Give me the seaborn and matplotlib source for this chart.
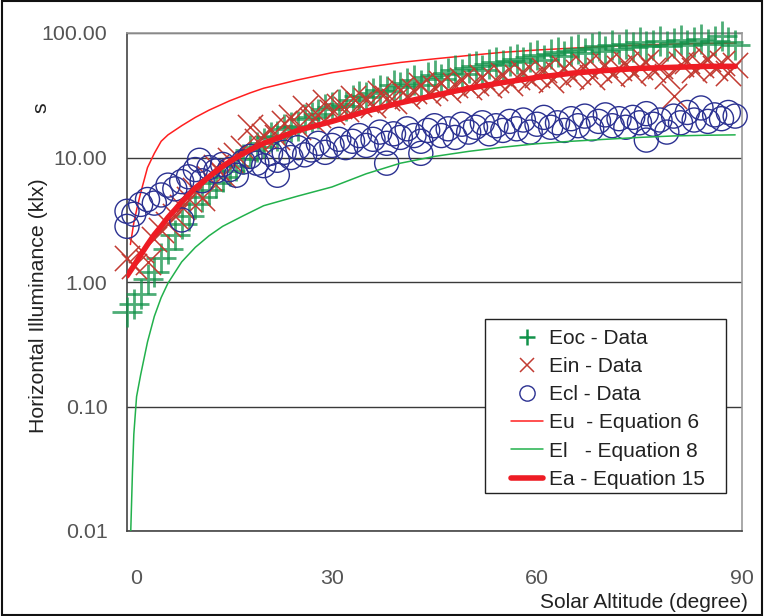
import matplotlib
matplotlib.use("Agg")
import matplotlib.pyplot as plt
import matplotlib.transforms as mtransforms
from matplotlib.patches import Rectangle
from matplotlib.lines import Line2D
import seaborn as sns
import pandas as pd

sns.set_style("white")
plt.rcParams['font.family'] = ['Liberation Sans', 'DejaVu Sans']

# ---------------- data ----------------
alt_deg = [0, 1, 2, 3, 4, 5, 6, 7, 8, 9, 10, 11, 12, 13, 14, 15, 16, 17, 18, 19,
           20, 21, 22, 23, 24, 25, 26, 27, 28, 29, 30, 31, 32, 33, 34, 35, 36, 37, 38, 39,
           40, 41, 42, 43, 44, 45, 46, 47, 48, 49, 50, 51, 52, 53, 54, 55, 56, 57, 58, 59,
           60, 61, 62, 63, 64, 65, 66, 67, 68, 69, 70, 71, 72, 73, 74, 75, 76, 77, 78, 79,
           80, 81, 82, 83, 84, 85, 86, 87, 88, 89]

eoc = [0.57, 0.66, 0.80, 1.05, 1.20, 1.55, 1.85, 2.4, 2.9, 3.4,
       4.2, 4.8, 5.5, 6.2, 7.0, 7.8, 8.6, 9.8, 11.5, 12.2,
       13.0, 14.5, 15.0, 16.8, 17.5, 18.0, 20.5, 21.0, 22.5, 24.5,
       25.5, 27.0, 26.0, 29.0, 31.0, 30.5, 33.0, 35.0, 34.0, 38.0,
       36.5, 40.0, 42.0, 38.5, 44.0, 46.0, 43.0, 48.0, 50.0, 47.0,
       52.0, 54.0, 50.0, 56.0, 58.0, 55.0, 60.0, 62.0, 58.0, 64.0,
       66.0, 61.0, 68.0, 70.0, 65.0, 72.0, 74.0, 69.0, 76.0, 78.0,
       72.0, 80.0, 75.0, 82.0, 77.0, 84.0, 79.0, 80.0, 86.0, 78.0,
       83.0, 88.0, 80.0, 85.0, 90.0, 82.0, 87.0, 94.0, 84.0, 80.0]

ein = [1.55, 1.35, 1.8, 1.45, 2.2, 2.6, 2.9, 3.4, 4.0, 4.6,
       5.5, 4.7, 6.8, 8.4, 7.2, 9.5, 10.5, 12.0, 17.5, 13.5,
       15.0, 17.0, 14.5, 19.0, 21.0, 17.5, 25.0, 20.0, 22.0, 28.0,
       23.0, 26.0, 24.5, 30.0, 27.0, 29.0, 26.5, 33.0, 30.0, 28.5,
       35.0, 31.0, 34.0, 38.0, 33.0, 36.0, 40.0, 35.0, 38.0, 42.0,
       37.0, 40.0, 44.0, 38.0, 42.0, 46.0, 40.0, 44.0, 48.0, 43.0,
       46.0, 50.0, 42.0, 47.0, 52.0, 45.0, 49.0, 54.0, 44.0, 50.0,
       55.0, 47.0, 52.0, 56.0, 48.0, 53.0, 58.0, 50.0, 54.0, 45.0,
       31.0, 56.0, 60.0, 50.0, 55.0, 62.0, 52.0, 57.0, 48.0, 55.0]

ecl = [3.7, 3.5, 4.2, 4.6, 4.3, 5.0, 6.0, 5.6, 6.4, 7.0,
       8.0, 6.5, 8.3, 7.8, 8.8, 8.0, 7.2, 9.2, 10.2, 9.0,
       8.6, 10.8, 9.5, 11.0, 10.0, 12.0, 10.5, 11.5, 13.0, 11.0,
       12.5, 14.0, 12.0, 13.5, 15.0, 12.5, 14.0, 16.0, 13.0, 15.5,
       14.5, 17.0, 15.0, 13.5, 16.5, 18.0, 15.0, 17.0, 14.5, 18.5,
       16.0, 17.5, 19.0, 15.5, 18.0, 16.5, 19.5, 17.0, 20.0, 16.0,
       18.5, 21.0, 17.5, 19.0, 16.5, 20.5, 18.0, 21.5, 17.0, 19.5,
       22.0, 18.0, 20.5, 17.5, 21.0, 19.0, 22.5, 18.5, 20.0, 16.0,
       21.5, 19.0, 23.0, 20.0, 25.0, 19.5, 22.0, 20.5, 23.0, 21.5]

ecl_extra_alt = [0, 8, 10.6, 22, 38, 43, 76]
ecl_extra = [2.8, 3.15, 9.5, 7.2, 9.0, 10.8, 13.8]

eu_alt = [0.5, 1, 1.5, 2, 3, 4, 5, 6, 8, 10, 12, 15, 18, 20, 25, 30, 35, 40,
          45, 50, 55, 60, 65, 70, 75, 80, 85, 89]
eu = [2.0, 3.0, 4.0, 5.2, 8.3, 10.8, 13.5, 15.2, 18.0, 21.0, 24.0, 28.5, 33.0, 36.0,
      42.0, 48.0, 53.0, 58.0, 62.0, 66.0, 70.0, 73.0, 75.5, 78.0, 80.0, 81.5, 82.5, 83.0]

el_alt = [0.55, 0.8, 1, 1.4, 2, 3, 4, 5, 6, 8, 10, 12, 14, 17, 20, 25, 30, 35, 40,
          45, 50, 55, 60, 65, 70, 75, 80, 85, 89]
el = [0.01, 0.03, 0.06, 0.12, 0.18, 0.33, 0.53, 0.75, 0.98, 1.45, 1.9, 2.35, 2.8, 3.4,
      4.1, 4.9, 5.8, 7.4, 9.0, 10.2, 11.2, 12.1, 12.9, 13.5, 14.0, 14.5, 14.9, 15.1, 15.2]

ea_alt = [0, 1, 2, 3, 4, 5, 6, 7, 8, 9, 10, 12, 14, 16, 18, 20, 25, 30, 35, 40,
          45, 50, 55, 60, 65, 70, 75, 80, 85, 89]
ea = [1.12, 1.35, 1.65, 2.0, 2.4, 2.8, 3.3, 3.8, 4.4, 5.0, 5.7, 7.0, 8.5, 10.0, 11.5,
      13.0, 16.5, 19.5, 23.5, 27.5, 31.5, 36.0, 40.0, 44.0, 47.5, 50.0, 52.0, 53.0, 54.0, 54.0]

y_ticks = [0.01, 0.1, 1, 10, 100]
y_ticklabels = ["0.01", "0.10", "1.00", "10.00", "100.00"]
x_ticks = [0, 10, 20, 30, 40, 50, 60, 70, 80, 90]
x_ticklabels = ["0", "", "", "30", "", "", "60", "", "", "90"]

labels = ["Eoc - Data", "Ein - Data", "Ecl - Data",
          "Eu  - Equation 6", "El   - Equation 8", "Ea - Equation 15"]

c_oc = "#12924a"
c_in = "#c23b32"
c_cl = "#2b3191"
c_eu = "#ff1f1f"
c_el = "#22b14c"
c_ea = "#ee1c24"

W, H = 764, 616

# ---------------- figure ----------------
fig = plt.figure(figsize=(W / 100, H / 100), dpi=100)
ax = fig.add_axes([127 / W, 1 - 531 / H, (742 - 127) / W, (531 - 33) / H])

df_oc = pd.DataFrame({"alt": alt_deg, "v": eoc})
df_in = pd.DataFrame({"alt": alt_deg, "v": ein})
df_cl = pd.DataFrame({"alt": alt_deg + ecl_extra_alt, "v": ecl + ecl_extra})

sns.lineplot(x=eu_alt, y=eu, ax=ax, color=c_eu, lw=1.1, estimator=None, sort=False, zorder=2)
sns.scatterplot(data=df_oc, x="alt", y="v", ax=ax, marker="+", s=480, color=c_oc,
                linewidth=2.0, alpha=0.75, zorder=3, clip_on=False)
sns.scatterplot(data=df_in, x="alt", y="v", ax=ax, marker="x", s=330, color=c_in,
                linewidth=1.1, zorder=3, clip_on=False)
sns.scatterplot(data=df_cl, x="alt", y="v", ax=ax, marker="o", s=300, facecolor="none",
                edgecolor=c_cl, linewidth=1.0, zorder=4, clip_on=False)
sns.lineplot(x=el_alt, y=el, ax=ax, color=c_el, lw=1.1, estimator=None, sort=False, zorder=5)
sns.lineplot(x=ea_alt, y=ea, ax=ax, color=c_ea, lw=4, estimator=None, sort=False, zorder=5)

ax.set_yscale("log")
ax.set_ylim(0.01, 100)
ax.set_xlim(0, 90)
ax.set_yticks(y_ticks)
ax.set_yticklabels(y_ticklabels)
ax.minorticks_off()
ax.set_xticks(x_ticks)
ax.set_xticklabels(x_ticklabels)
ax.tick_params(axis="y", direction="out", length=6, width=1, color="#444444",
               labelsize=15.4, labelcolor="#555555", pad=8)
ax.tick_params(axis="x", direction="out", length=6, width=1, color="#444444",
               labelsize=15.4, labelcolor="#555555", pad=21)
ax.yaxis.grid(True, color="#3a3a3a", lw=1)
ax.xaxis.grid(False)
for s in ["left", "bottom"]:
    ax.spines[s].set_color("#444444")
    ax.spines[s].set_linewidth(1.2)
for s in ["top", "right"]:
    ax.spines[s].set_color("#9a9a9a")
    ax.spines[s].set_linewidth(1.2)
ax.set_xlabel("")
ax.set_ylabel("")

# shift the "0" label slightly right as in the reference
lbl0 = ax.get_xticklabels()[0]
lbl0.set_transform(lbl0.get_transform() + mtransforms.ScaledTranslation(9 / 100, 0, fig.dpi_scale_trans))

fig.text(644 / W, 1 - 603 / H, "Solar Altitude (degree)", ha="center", va="center",
         fontsize=15, color="#222222")
fig.text(39 / W, 1 - 306 / H, "Horizontal Illuminance (klx)", ha="center", va="center",
         rotation=90, fontsize=15.3, color="#222222")
fig.text(41 / W, 1 - 108 / H, "s", ha="center", va="center",
         rotation=90, fontsize=15.3, color="#222222")

handles = [
    Line2D([], [], ls="none", marker="+", color=c_oc, markersize=12, markeredgewidth=1.8),
    Line2D([], [], ls="none", marker="x", color=c_in, markersize=10, markeredgewidth=1.1),
    Line2D([], [], ls="none", marker="o", markerfacecolor="none", markeredgecolor=c_cl,
           markersize=11, markeredgewidth=1.0),
    Line2D([], [], color=c_eu, lw=1.1),
    Line2D([], [], color=c_el, lw=1.1),
    Line2D([], [], color=c_ea, lw=4),
]
leg_fs = 15
fs_px = leg_fs * 100 / 72
leg = ax.legend(handles, labels, loc="upper left",
                bbox_to_anchor=(511 / W, 1 - 329 / H), bbox_transform=fig.transFigure,
                fontsize=leg_fs, frameon=False, handlelength=32 / fs_px,
                handletextpad=6 / fs_px, labelspacing=0.44, borderpad=0, borderaxespad=0)
for t in leg.get_texts():
    t.set_color("#222222")
leg.set_zorder(10)
ax.add_patch(Rectangle((485 / W, 1 - 493 / H), (726 - 485) / W, (493 - 319) / H,
                       transform=fig.transFigure, facecolor="white", edgecolor="#222222",
                       lw=1.0, zorder=9, clip_on=False))

fig.patches.append(Rectangle((0.002, 0.002), 0.996, 0.996, transform=fig.transFigure,
                             fill=False, edgecolor="#111111", lw=1.5))

fig.savefig("out.png", dpi=100)
